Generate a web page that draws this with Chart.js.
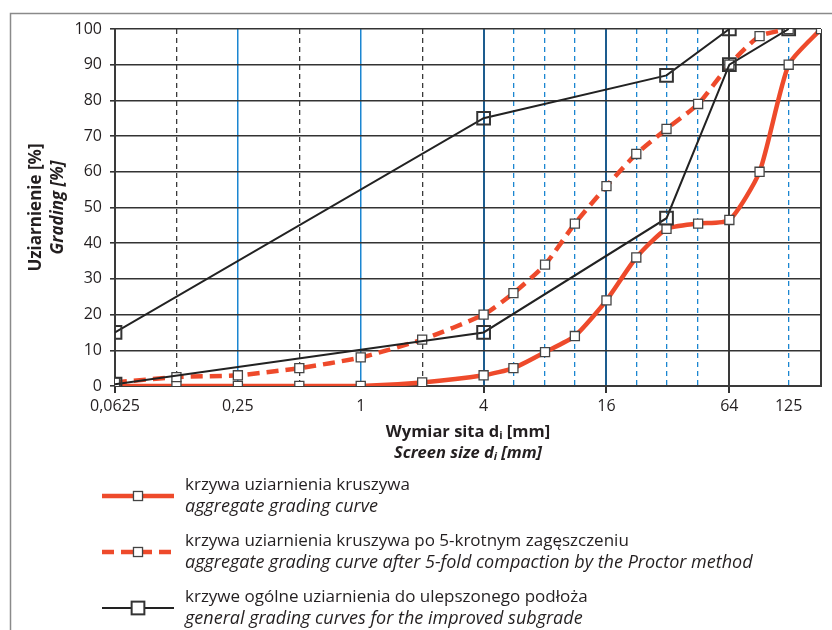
<!DOCTYPE html>
<html>
<head>
<meta charset="utf-8">
<script src="https://cdn.jsdelivr.net/npm/chart.js@4"></script>
<style>
  body { margin: 0; background: #fff; }
  #wrap { width: 832px; height: 630px; position: relative; }
</style>
</head>
<body>
<div id="wrap"><canvas id="chart" width="832" height="630"></canvas></div>
<script>
"use strict";

// sieve sizes [mm] and passing [%]
const aggregateSizes = [0.0625, 0.125, 0.25, 0.5, 1, 2, 4, 5.6, 8, 11.2, 16, 22.4, 31.5, 45, 64, 90, 125, 180];
const aggregateCurve = [0, 0, 0, 0, 0, 1, 3, 5, 9.5, 14, 24, 36, 44, 45.5, 46.5, 60, 90, 100];
const proctorSizes = [0.0625, 0.125, 0.25, 0.5, 1, 2, 4, 5.6, 8, 11.2, 16, 22.4, 31.5, 45, 64, 90, 125];
const proctorCurve = [1, 2.5, 3, 5, 8, 13, 20, 26, 34, 45.5, 56, 65, 72, 79, 90, 98, 100];
const upperSizes = [0.0625, 4, 31.5, 64];
const upperLimit = [15, 75, 87, 100];
const lowerSizes = [0.0625, 4, 31.5, 64, 125];
const lowerLimit = [0.5, 15, 47, 90, 100];

// grid / tick positions
const mainTicks = [0.0625, 0.25, 1, 4, 16, 64, 125, 180];
const labelledTicks = [0.0625, 0.25, 1, 4, 16, 64, 125];
const blackDashedTicks = [0.125, 0.5, 2];
const blueDashedTicks = [5.6, 8, 11.2, 22.4, 31.5, 45, 125];
const xMin = 0.0625, xMax = 180;

const legendPl = ["krzywa uziarnienia kruszywa",
  "krzywa uziarnienia kruszywa po 5-krotnym zagęszczeniu",
  "krzywe ogólne uziarnienia do ulepszonego podłoża"];
const legendEn = ["aggregate grading curve",
  "aggregate grading curve after 5-fold compaction by the Proctor method",
  "general grading curves for the improved subgrade"];

const RED = "#ee4a2b";
const INK = "#231f20";
const FONT = "'Open Sans', sans-serif";

const pts = (xs, ys) => xs.map((x, i) => ({ x: x, y: ys[i] }));

function gridColor(v) {
  if (v === 0.25 || v === 1) return "#1b86d1";
  if (v === 4 || v === 16) return "#1d5c8e";
  if (v === 125) return "rgba(0,0,0,0)";
  return "#3a3a3a";
}

function dashAxis(ticks, color, dash) {
  return {
    type: "logarithmic", position: "bottom", min: xMin, max: xMax,
    afterBuildTicks: s => { s.ticks = ticks.map(v => ({ value: v })); },
    afterFit: s => { s.height = 0; },
    ticks: { display: false },
    grid: { color: color, lineWidth: 1.3, drawTicks: false },
    border: { display: false, dash: dash }
  };
}

// text with a subscript part: parts = [[text, sub?], ...]
function drawParts(ctx, parts, cx, y, font, subFont) {
  let total = 0;
  parts.forEach(p => { ctx.font = p[1] ? subFont : font; total += ctx.measureText(p[0]).width; });
  let x = cx - total / 2;
  ctx.textAlign = "left";
  parts.forEach(p => {
    ctx.font = p[1] ? subFont : font;
    ctx.fillText(p[0], x, p[1] ? y + 4 : y);
    x += ctx.measureText(p[0]).width;
  });
}

const extras = {
  id: "extras",
  beforeDraw(chart) {
    const ctx = chart.ctx;
    ctx.save();
    ctx.fillStyle = "#fff";
    ctx.fillRect(0, 0, chart.width, chart.height);
    ctx.strokeStyle = "#8a8a8a";
    ctx.lineWidth = 1.5;
    ctx.beginPath();
    ctx.moveTo(10.5, chart.height);
    ctx.lineTo(10.5, 13.5);
    ctx.lineTo(chart.width, 13.5);
    ctx.stroke();
    ctx.restore();
  },
  afterDraw(chart) {
    const ctx = chart.ctx;
    const area = chart.chartArea;
    ctx.save();
    ctx.fillStyle = INK;
    ctx.textBaseline = "middle";

    // y title
    const cy = (area.top + area.bottom) / 2;
    ctx.save();
    ctx.translate(36, cy);
    ctx.rotate(-Math.PI / 2);
    ctx.textAlign = "center";
    ctx.font = "bold 17px " + FONT;
    ctx.fillText("Uziarnienie [%]", 0, 0);
    ctx.font = "italic bold 17px " + FONT;
    ctx.fillText("Grading [%]", 0, 22);
    ctx.restore();

    // x title
    const cx = (area.left + area.right) / 2;
    drawParts(ctx, [["Wymiar sita d"], ["i", true], [" [mm]"]], cx, 432,
      "bold 16.5px " + FONT, "bold 11px " + FONT);
    drawParts(ctx, [["Screen size d"], ["i", true], [" [mm]"]], cx, 453,
      "italic bold 16.5px " + FONT, "italic bold 11px " + FONT);

    // legend
    const rows = [485, 541, 597];
    chart.data.datasets.slice(0, 3).forEach((ds, i) => {
      const ly = rows[i] + 11;
      ctx.save();
      ctx.strokeStyle = ds.borderColor;
      ctx.lineWidth = ds.borderWidth;
      ctx.setLineDash(ds.borderDash || []);
      ctx.beginPath();
      ctx.moveTo(102, ly);
      ctx.lineTo(174, ly);
      ctx.stroke();
      ctx.setLineDash([]);
      const s = ds.pointRadius * Math.SQRT2;
      ctx.fillStyle = "#fff";
      ctx.fillRect(138 - s / 2, ly - s / 2, s, s);
      ctx.strokeStyle = ds.pointBorderColor;
      ctx.lineWidth = ds.pointBorderWidth;
      ctx.strokeRect(138 - s / 2, ly - s / 2, s, s);
      ctx.restore();
      ctx.textAlign = "left";
      ctx.font = "17px " + FONT;
      ctx.fillText(legendPl[i], 185, rows[i]);
      ctx.font = "italic 18px " + FONT;
      ctx.fillText(legendEn[i], 185, rows[i] + 22);
    });
    ctx.restore();
  }
};

const ctx = document.getElementById("chart").getContext("2d");
new Chart(ctx, {
  type: "line",
  data: {
    datasets: [
      {
        label: legendPl[0], data: pts(aggregateSizes, aggregateCurve),
        borderColor: RED, borderWidth: 4.5, tension: 0.2,
        pointStyle: "rect", pointRadius: 6.4, pointBackgroundColor: "#fff",
        pointBorderColor: "#444", pointBorderWidth: 1.3, order: 3
      },
      {
        label: legendPl[1], data: pts(proctorSizes, proctorCurve),
        borderColor: RED, borderWidth: 4.5, borderDash: [12, 7], tension: 0.2,
        pointStyle: "rect", pointRadius: 6.4, pointBackgroundColor: "#fff",
        pointBorderColor: "#444", pointBorderWidth: 1.3, order: 2
      },
      {
        label: legendPl[2], data: pts(upperSizes, upperLimit),
        borderColor: "#222", borderWidth: 2, tension: 0,
        pointStyle: "rect", pointRadius: 9, pointBackgroundColor: "rgba(255,255,255,0)",
        pointBorderColor: "#333", pointBorderWidth: 2, order: 1
      },
      {
        label: legendPl[2], data: pts(lowerSizes, lowerLimit),
        borderColor: "#222", borderWidth: 2, tension: 0,
        pointStyle: "rect", pointRadius: 9, pointBackgroundColor: "rgba(255,255,255,0)",
        pointBorderColor: "#333", pointBorderWidth: 2, order: 0
      }
    ]
  },
  options: {
    responsive: false,
    animation: false,
    layout: { padding: { top: 29, right: 11, bottom: 200, left: 0 } },
    plugins: { legend: { display: false }, tooltip: { enabled: false } },
    scales: {
      x: {
        type: "logarithmic", position: "bottom", min: xMin, max: xMax,
        afterBuildTicks: s => { s.ticks = mainTicks.map(v => ({ value: v })); },
        afterFit: s => { s.height = 44; },
        ticks: {
          autoSkip: false, maxRotation: 0, padding: 4, color: INK,
          font: { family: FONT, size: 16 },
          callback: v => labelledTicks.includes(v) ? String(v).replace(".", ",") : ""
        },
        grid: {
          color: c => gridColor(c.tick.value),
          lineWidth: c => (c.tick.value === 0.25 || c.tick.value === 1) ? 1.5 : 2,
          tickLength: 7,
          tickColor: c => [0.0625, 4, 16, 64].includes(c.tick.value) ? "#333" : "rgba(0,0,0,0)"
        },
        border: { color: "#3a3a3a", width: 2 }
      },
      xBlack: dashAxis(blackDashedTicks, "#3a3a3a", [5, 4]),
      xBlue: dashAxis(blueDashedTicks, "#1b86d1", [5, 4]),
      y: {
        min: 0, max: 100,
        afterFit: s => { s.width = 115; },
        ticks: { stepSize: 10, padding: 8, color: INK, font: { family: FONT, size: 16 } },
        grid: { color: "#333", lineWidth: 1.6, tickLength: 5 },
        border: { color: "#3a3a3a", width: 2 }
      }
    }
  },
  plugins: [extras]
});
</script>
</body>
</html>
